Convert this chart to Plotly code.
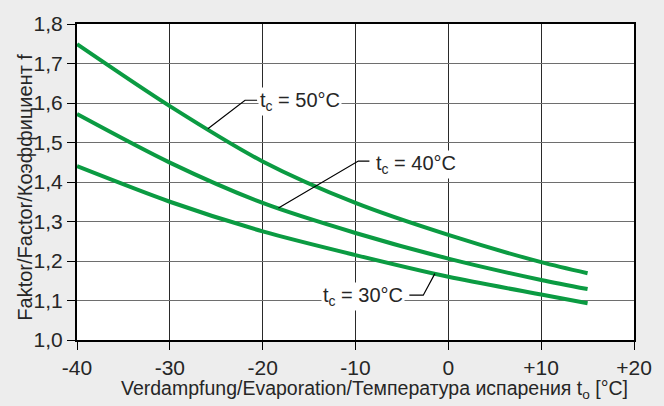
import numpy as np
import plotly.graph_objects as go

# Data
t_evap = [-40, -30, -20, -10, 0, 10, 15]
f_tc50 = [1.749, 1.592, 1.452, 1.347, 1.266, 1.197, 1.169]
f_tc40 = [1.572, 1.449, 1.347, 1.271, 1.206, 1.152, 1.129]
f_tc30 = [1.440, 1.350, 1.275, 1.215, 1.160, 1.115, 1.093]

x_ticks = [-40, -30, -20, -10, 0, 10, 20]
x_ticktext = ["-40", "-30", "-20", "-10", "0", "+10", "+20"]
y_ticks = [1.0, 1.1, 1.2, 1.3, 1.4, 1.5, 1.6, 1.7, 1.8]
y_ticktext = ["1,0", "1,1", "1,2", "1,3", "1,4", "1,5", "1,6", "1,7", "1,8"]

series = [
    ("t<sub>c</sub> = 50°C", f_tc50),
    ("t<sub>c</sub> = 40°C", f_tc40),
    ("t<sub>c</sub> = 30°C", f_tc30),
]

GREEN = "#0b9b42"
FONT = "Liberation Sans, Arial, sans-serif"
TXT = "#262626"

fig = go.Figure()
for name, ys in series:
    fig.add_trace(go.Scatter(
        x=t_evap, y=ys, mode="lines", name=name,
        line=dict(color=GREEN, width=4, shape="spline", smoothing=0.8),
        showlegend=False, hoverinfo="skip",
    ))

# Label placements: (text, series, anchor x on curve, elbow x, elbow y, end x, text x, text y, xanchor)
labels = [
    ("t<sub>c</sub> = 50°C", f_tc50, -25.9, -21.9, 1.607, -20.6, -20.45, 1.604, "left"),
    ("t<sub>c</sub> = 40°C", f_tc40, -18.3, -9.7, 1.453, -8.5, -8.0, 1.444, "left"),
    ("t<sub>c</sub> = 30°C", f_tc30, -1.45, -2.7, 1.1135, -4.2, -4.7, 1.110, "right"),
]
shapes = []
annotations = []
for text, ys, ax, ex, ey, endx, tx, ty, xa in labels:
    ay = float(np.interp(ax, t_evap, ys))
    shapes.append(dict(
        type="path", xref="x", yref="y",
        path=f"M {ax},{ay} L {ex},{ey} L {endx},{ey}",
        line=dict(color="black", width=1.2), layer="above",
    ))
    annotations.append(dict(
        x=tx, y=ty, xref="x", yref="y", text=text, showarrow=False,
        xanchor=xa, yanchor="middle", bgcolor="white", borderpad=1,
        font=dict(family=FONT, size=20, color=TXT),
    ))

annotations.append(dict(
    x=(380 - 77) / 567, y=-0.11, xref="paper", yref="paper",
    text="Verdampfung/Evaporation/Температура испарения t<sub>o</sub> [°C]",
    showarrow=False, xanchor="center", yanchor="top",
    font=dict(family=FONT, size=19.5, color=TXT),
))
annotations.append(dict(
    x=(24 - 77) / 567, y=0.485, xref="paper", yref="paper",
    text="Faktor/Factor/Коэффициент f", textangle=-90,
    showarrow=False, xanchor="center", yanchor="middle",
    font=dict(family=FONT, size=20, color=TXT),
))

fig.update_layout(
    width=664, height=406,
    margin=dict(l=77, r=20, t=16, b=66),
    paper_bgcolor="#ededed", plot_bgcolor="white",
    font=dict(family=FONT, size=21, color=TXT),
    shapes=shapes, annotations=annotations,
)
fig.update_xaxes(
    range=[-40, 20], tickvals=x_ticks, ticktext=x_ticktext,
    showgrid=True, gridcolor="#2a2a2a", gridwidth=1,
    showline=True, linecolor="black", linewidth=2, mirror=True,
    ticks="outside", ticklen=8, tickcolor="black", tickwidth=1,
    zeroline=False, tickfont=dict(size=21, color=TXT),
)
fig.update_yaxes(
    range=[1.0, 1.8], tickvals=y_ticks, ticktext=y_ticktext,
    showgrid=True, gridcolor="#6e6e6e", gridwidth=1.4,
    showline=True, linecolor="black", linewidth=2, mirror=True,
    ticks="outside", ticklen=8, tickcolor="black", tickwidth=1,
    zeroline=False, tickfont=dict(size=21, color=TXT),
)

fig.write_html(
    "out.html",
    config={"displayModeBar": False},
    post_script="document.body.style.margin='0';document.body.style.background='#ededed';",
)
